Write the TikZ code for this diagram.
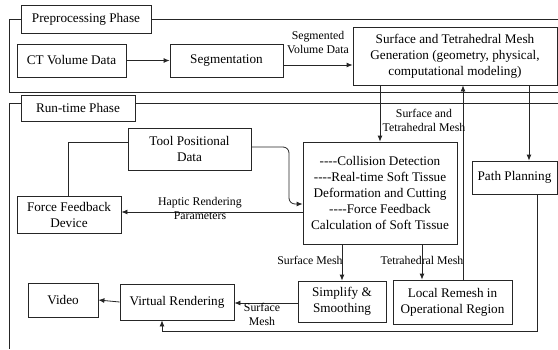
\documentclass[tikz,border=0pt]{standalone}
\usepackage{fontspec}
\setmainfont{Liberation Serif}
\usetikzlibrary{arrows.meta}
\newcommand{\fourdash}{-\kern0pt-\kern0pt-\kern0pt-}
\begin{document}
\begin{tikzpicture}[x=1pt,y=-1pt,
  line width=0.8pt, draw=black!85,
  box/.style={draw=black!85, fill=white, inner sep=0pt, align=center,
    font=\fontsize{13.2}{16}\selectfont},
  lbl/.style={inner sep=0pt, align=center, font=\fontsize{11.8}{14}\selectfont},
  arr/.style={-{Latex[length=6pt,width=5pt]}}]
\useasboundingbox (0,0) rectangle (558,349);
% frames
\node[box, minimum width=130pt, minimum height=28pt] (pre) at (86,19) {Preprocessing Phase};
\node[box, minimum width=114pt, minimum height=26pt] (run) at (78,108) {Run-time Phase};
\coordinate (p1) at (9,19); \coordinate (p2) at (9,92); \coordinate (p3) at (558,92); \coordinate (p4) at (558,19);
\coordinate (r1) at (9,103); \coordinate (r2) at (9,349); \coordinate (r3) at (558,103);
\draw (pre.west |- p1) -- (p1) -- (p2) -- (p3);
\draw (pre.east |- p4) -- (p4);
\draw (run.west |- r1) -- (r1) -- (r2);
\draw (run.east |- r3) -- (r3);
% nodes
\node[box, minimum width=109pt, minimum height=33pt] (ct) at (71.5,60.5) {CT Volume Data};
\node[box, minimum width=113pt, minimum height=33pt] (seg) at (226.5,60.5) {Segmentation};
\node[box, minimum width=204pt, minimum height=58pt] (surf) at (455,56) {Surface and Tetrahedral Mesh\\Generation (geometry, physical,\\computational modeling)};
\node[box, minimum width=123pt, minimum height=42pt] (tool) at (189.5,149) {Tool Positional\\Data};
\node[box, minimum width=154pt, minimum height=102pt] (coll) at (380,193) {\fourdash Collision Detection\\\fourdash Real-time Soft Tissue\\Deformation and Cutting\\\fourdash Force Feedback\\Calculation of Soft Tissue};
\node[box, minimum width=85pt, minimum height=33pt] (path) at (514.5,177.5) {Path Planning};
\node[box, minimum width=104pt, minimum height=37pt] (force) at (69,214.5) {Force Feedback\\Device};
\node[box, minimum width=70pt, minimum height=34pt] (video) at (63,300) {Video};
\node[box, minimum width=114pt, minimum height=36pt] (virt) at (177,302) {Virtual Rendering};
\node[box, minimum width=88pt, minimum height=41pt] (simp) at (342,301.5) {Simplify \&\\Smoothing};
\node[box, minimum width=119pt, minimum height=44pt] (rem) at (452.5,302) {Local Remesh in\\Operational Region};
% helper coordinates
\coordinate (ysv) at (0,65);
\coordinate (x463) at (463,0);
\coordinate (x529) at (529,0);
\coordinate (x537) at (537,0);
\coordinate (c1) at (537,331); \coordinate (c2) at (162,331);
\coordinate (t1) at (68,142);
\coordinate (t2) at (289,147); \coordinate (t3) at (289,204);
\coordinate (yt2) at (0,147); \coordinate (yt3) at (0,204);
\coordinate (yh) at (0,212);
\coordinate (x342) at (342,0); \coordinate (x422) at (422,0);
\coordinate (ysm) at (0,303);
% connectors
\draw[arr] (ct.east) -- (seg.west);
\draw[arr] (seg.east |- ysv) -- (surf.west |- ysv);
\draw[arr] (coll.north |- surf.south) -- (coll.north);
\draw[arr] (rem.north -| x463) -- (surf.south -| x463);
\draw[arr] (surf.south -| x529) -- (path.north -| x529);
\draw[arr] (path.south -| x537) -- (c1) -- (c2) -- (virt.south -| c2);
\draw (tool.west |- t1) -- (t1) -- (force.north -| t1);
\draw[arr, rounded corners=6pt] (tool.east |- yt2) -- (t2) -- (t3) -- (coll.west |- yt3);
\draw[arr] (coll.west |- yh) -- (force.east |- yh);
\draw[arr] (coll.south -| x342) -- (simp.north);
\draw[arr] (coll.south -| x422) -- (rem.north -| x422);
\draw[arr] (simp.west |- ysm) -- (virt.east |- ysm);
\draw[arr] (virt.west) -- (video.east);
% labels
\node[lbl] (l1) at (318,42) {Segmented\\Volume Data};
\node[lbl] (l2) at (424,120) {Surface and\\Tetrahedral Mesh};
\node[lbl] (l3) at (200,208.5) {Haptic Rendering\\Parameters};
\node[lbl, anchor=east] (l4) at (343,260) {Surface Mesh};
\node[lbl] (l5) at (422,260) {Tetrahedral Mesh};
\node[lbl] (l6) at (262,314) {Surface\\Mesh};
\end{tikzpicture}
\end{document}
